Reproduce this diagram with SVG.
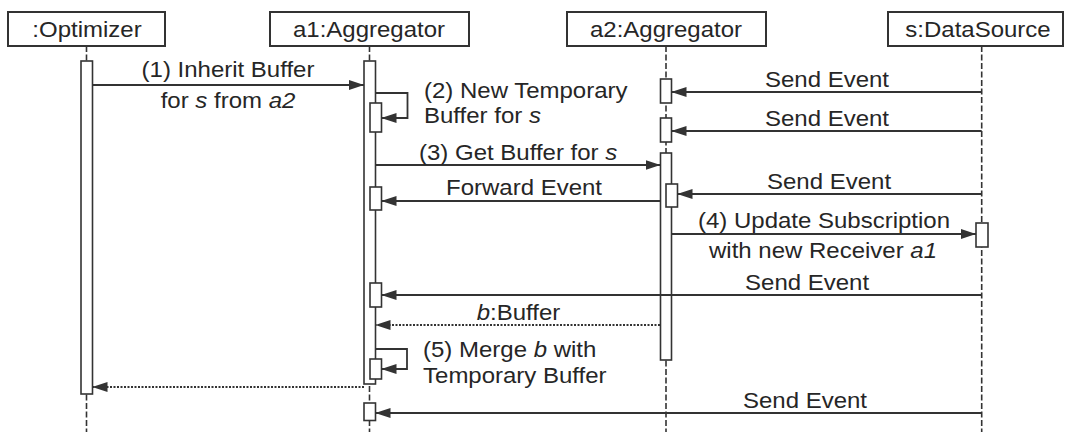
<svg xmlns="http://www.w3.org/2000/svg" width="1068" height="432" viewBox="0 0 1068 432">
<style>
.box{fill:#fff;stroke:#333;stroke-width:2}
.life{stroke:#333;stroke-width:1.6;stroke-dasharray:6,2.5;fill:none}
.act{fill:#fff;stroke:#333;stroke-width:1.6}
.msg{stroke:#333;stroke-width:1.8;fill:none;marker-end:url(#ah)}
.ret{stroke:#333;stroke-width:2;fill:none;stroke-dasharray:2,1.5;marker-end:url(#ah)}
text{font-family:"Liberation Sans",Arial,sans-serif;font-size:22.5px;fill:#262626}
.c{text-anchor:middle}
.i{font-style:italic}
</style>
<defs>
<marker id="ah" markerUnits="userSpaceOnUse" markerWidth="15" markerHeight="10" refX="15" refY="5" orient="auto">
<path d="M0,0 L15,5 L0,10 z" fill="#333"/>
</marker>
</defs>
<rect width="1068" height="432" fill="#fff"/>

<g id="optimizer">
<line class="life" x1="86.5" y1="46" x2="86.5" y2="432"/>
<rect class="box" x="8" y="12" width="157" height="34"/>
<text class="c" transform="scale(1.0667,1)" x="81.56" y="37">:Optimizer</text>
<rect class="act" x="81" y="61" width="11.5" height="333"/>
</g>

<g id="a1">
<line class="life" x1="369.5" y1="46" x2="369.5" y2="432"/>
<rect class="box" x="270" y="12" width="199" height="34"/>
<text class="c" transform="scale(1.0667,1)" x="345.94" y="37">a1:Aggregator</text>
<rect class="act" x="364" y="61" width="11.5" height="323"/>
<rect class="act" x="370" y="103" width="11.5" height="29"/>
<rect class="act" x="370" y="187" width="11.5" height="23"/>
<rect class="act" x="370" y="283" width="11.5" height="24"/>
<rect class="act" x="370" y="359" width="11.5" height="20"/>
<rect class="act" x="364" y="403" width="11.5" height="17.5"/>
</g>

<g id="a2">
<line class="life" x1="666" y1="46" x2="666" y2="432"/>
<rect class="box" x="567" y="12" width="199" height="34"/>
<text class="c" transform="scale(1.0667,1)" x="624.37" y="37">a2:Aggregator</text>
<rect class="act" x="660.5" y="79" width="11" height="24"/>
<rect class="act" x="660.5" y="118" width="11" height="24"/>
<rect class="act" x="660.5" y="153" width="11" height="207"/>
<rect class="act" x="666" y="184" width="11.5" height="23"/>
</g>

<g id="datasource">
<line class="life" x1="981.7" y1="46" x2="981.7" y2="432"/>
<rect class="box" x="888" y="12" width="175" height="34"/>
<text class="c" transform="scale(1.0667,1)" x="916.87" y="37">s:DataSource</text>
<rect class="act" x="976" y="223" width="12" height="24"/>
</g>

<g id="connectors">
<line class="msg" x1="92.5" y1="85" x2="364" y2="85"/>
<text class="c" transform="scale(1.0667,1)" x="213.75" y="77">(1) Inherit Buffer</text>
<text class="c" transform="scale(1.0667,1)" x="213.75" y="108">for <tspan class="i">s</tspan> from <tspan class="i">a2</tspan></text>

<polyline class="msg" points="375.5,93 407.5,93 407.5,118 381.5,118"/>
<text transform="scale(1.0667,1)" x="397.5" y="98">(2) New Temporary</text>
<text transform="scale(1.0667,1)" x="397.5" y="123.5">Buffer for <tspan class="i">s</tspan></text>

<line class="msg" x1="981.7" y1="92" x2="671.5" y2="92"/>
<text class="c" transform="scale(1.0667,1)" x="775.3" y="87">Send Event</text>
<line class="msg" x1="981.7" y1="131" x2="671.5" y2="131"/>
<text class="c" transform="scale(1.0667,1)" x="775.3" y="126">Send Event</text>

<line class="msg" x1="375.5" y1="165" x2="660.5" y2="165"/>
<text transform="scale(1.0667,1)" x="392.8" y="160">(3) Get Buffer for <tspan class="i">s</tspan></text>

<line class="msg" x1="981.7" y1="194" x2="677.5" y2="194"/>
<text class="c" transform="scale(1.0667,1)" x="777.2" y="189">Send Event</text>

<line class="msg" x1="660.5" y1="201" x2="381.5" y2="201"/>
<text class="c" transform="scale(1.0667,1)" x="491.25" y="195">Forward Event</text>

<line class="msg" x1="671.5" y1="234" x2="976" y2="234"/>
<text class="c" transform="scale(1.0667,1)" x="772.5" y="228">(4) Update Subscription</text>
<text class="c" transform="scale(1.0667,1)" x="771.6" y="258">with new Receiver <tspan class="i">a1</tspan></text>

<line class="msg" x1="981.7" y1="295" x2="381.5" y2="295"/>
<text class="c" transform="scale(1.0667,1)" x="756.6" y="290">Send Event</text>

<line class="ret" x1="660" y1="325" x2="375.5" y2="325"/>
<text class="c" transform="scale(1.0667,1)" x="486.1" y="320"><tspan class="i">b</tspan>:Buffer</text>

<polyline class="msg" points="375.5,349 407,349 407,369 381.5,369"/>
<text transform="scale(1.0667,1)" x="396.6" y="357.5">(5) Merge <tspan class="i">b</tspan> with</text>
<text transform="scale(1.0667,1)" x="396.6" y="383">Temporary Buffer</text>

<line class="ret" x1="364" y1="387" x2="92.5" y2="387"/>

<line class="msg" x1="981.7" y1="413" x2="375.5" y2="413"/>
<text class="c" transform="scale(1.0667,1)" x="754.7" y="408">Send Event</text>
</g>
</svg>
